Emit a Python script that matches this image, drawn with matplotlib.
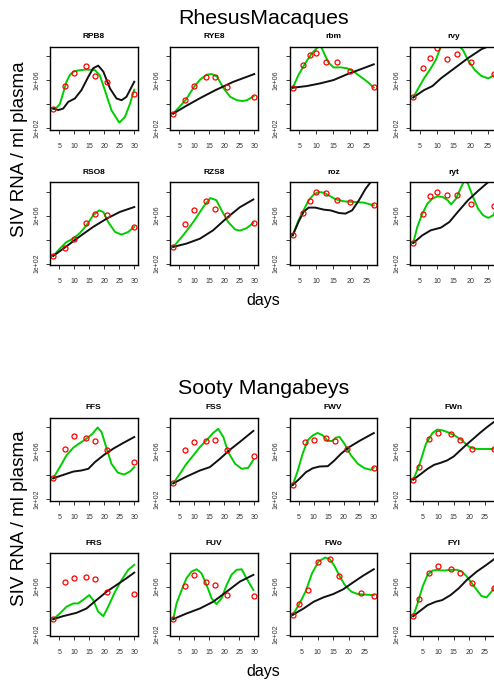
"""Viral load fits per animal: Rhesus macaques vs Sooty mangabeys."""

import matplotlib
matplotlib.use("Agg")
import matplotlib.pyplot as plt
import numpy as np
from matplotlib.ticker import MultipleLocator, FixedLocator, NullLocator

plt.rcParams["font.family"] = ["Liberation Sans", "DejaVu Sans"]

# --- data (viral loads as log10 copies / ml) ---------------------------------
rhesus_names = ["RPB8", "RYE8", "rbm", "rvy", "RSO8", "RZS8", "roz", "ryt"]
sooty_names = ["FFS", "FSS", "FWV", "FWn", "FRS", "FUV", "FWo", "FYI"]

days_a = [3, 7, 10, 14, 17, 21, 30]
days_b = [3, 6, 8, 10, 13, 16, 20, 27]
days_c = [2, 4, 7, 10, 14, 17, 21, 28]
days_d = [2, 4, 7, 10, 14, 17, 24, 28]

obs_days = {
    "RPB8": days_a, "RYE8": days_a, "rbm": days_b, "rvy": days_b,
    "RSO8": days_a, "RZS8": days_a, "roz": days_b, "ryt": days_b,
    "FFS": days_a, "FSS": days_a, "FWV": days_a, "FWn": days_c,
    "FRS": days_a, "FUV": days_a, "FWo": days_d, "FYI": days_c,
}

obs_log = {
    "RPB8": [3.62, 5.52, 6.56, 7.17, 6.34, 5.86, 4.83],
    "RYE8": [3.2, 4.32, 5.52, 6.28, 6.22, 5.44, 4.6],
    "rbm": [5.36, 7.29, 8.1, 8.29, 7.51, 7.51, 6.76, 5.38],
    "rvy": [4.55, 6.98, 7.87, 8.71, 7.79, 8.2, 7.51, 6.5],
    "RSO8": [2.64, 3.31, 4.08, 5.39, 6.11, 6.08, 5.08],
    "RZS8": [3.39, 5.28, 6.44, 7.22, 6.56, 6.08, 5.39],
    "roz": [4.36, 6.25, 7.22, 7.97, 7.89, 7.28, 7.11, 6.92],
    "ryt": [3.72, 6.11, 7.61, 8.0, 7.75, 7.75, 7.0, 6.78],
    "FFS": [3.73, 6.2, 7.26, 7.12, 6.87, 6.08, 5.08],
    "FSS": [3.31, 6.08, 6.73, 6.87, 6.9, 6.06, 5.58],
    "FWV": [3.17, 6.73, 6.95, 7.06, 6.84, 6.14, 4.6],
    "FWn": [3.62, 4.71, 7.03, 7.54, 7.4, 6.9, 6.17, 6.17],
    "FRS": [3.29, 6.36, 6.73, 6.78, 6.64, 5.55, 5.36],
    "FUV": [3.29, 6.08, 6.95, 6.36, 6.14, 5.3, 5.24],
    "FWo": [3.65, 4.52, 5.72, 8.04, 8.29, 6.9, 5.44, 5.19],
    "FYI": [3.54, 4.94, 7.12, 7.68, 7.51, 7.12, 6.28, 5.92],
}

# green fit: (day, log10 load)
green_fit = {
    "RPB8": [(3, 3.62), (4.2, 3.72), (5.2, 4.0), (6.3, 4.9), (7.4, 5.85), (8.6, 6.45),
             (9.9, 6.72), (11.3, 6.8), (14, 6.88), (16.9, 6.82), (18.5, 6.4), (20.2, 5.16),
             (22.4, 3.48), (25, 2.45), (26.9, 2.92), (28.6, 4.04), (30, 5.2)],
    "RYE8": [(3, 3.2), (7.1, 4.32), (9.8, 5.38), (12, 6.05), (14.2, 6.45), (15.9, 6.5),
             (17.6, 6.28), (19.8, 5.3), (22, 4.6), (24.2, 4.32), (26, 4.25), (27.6, 4.32),
             (29.8, 4.66)],
    "rbm": [(3, 5.36), (4.7, 6.42), (6.7, 7.4), (8.7, 8.24), (10.3, 8.7), (11, 8.95),
            (11.7, 8.6), (12.5, 8.1), (13.6, 7.45), (15.1, 7.05), (17.1, 7.06), (19.1, 6.98),
            (21.1, 6.7), (23.1, 6.28), (25.1, 5.86), (27, 5.38)],
    "rvy": [(3, 4.55), (4.2, 5.16), (6.2, 6.14), (8.2, 6.98), (9.7, 7.68), (11, 8.66),
            (12, 9.0), (13.5, 9.1), (15, 9.0), (16.5, 8.85), (17.7, 8.52), (19.2, 7.68),
            (21.2, 6.84), (23.2, 6.34), (25.2, 6.14), (26.7, 6.34), (27, 6.45)],
    "RSO8": [(3, 2.64), (5.2, 3.25), (7.4, 3.8), (9.7, 4.08), (11.9, 4.56), (14.1, 5.19),
             (16.3, 6.03), (18.3, 6.44), (19.7, 6.3), (21.3, 5.47), (23.6, 4.64), (25.8, 4.42),
             (28, 4.64), (30, 5.06)],
    "RZS8": [(3, 3.39), (6.3, 4.36), (9.7, 5.47), (13, 6.72), (15.4, 7.47), (17.4, 7.28),
             (19.1, 6.44), (21.3, 5.47), (23.6, 4.85), (25.2, 4.75), (27.4, 4.95), (29.7, 5.39)],
    "roz": [(3, 4.36), (4.7, 5.61), (6.2, 6.44), (7.7, 7.28), (9.2, 7.75), (10.7, 7.97),
            (12.2, 7.92), (13.7, 7.69), (15.7, 7.36), (18.2, 7.19), (21.2, 7.14), (24.1, 7.08),
            (27, 6.86)],
    "ryt": [(3, 3.72), (4.2, 5.06), (5.7, 6.17), (7.2, 7.0), (8.7, 7.42), (10.2, 7.61),
            (11.7, 7.56), (13.2, 7.28), (14.2, 6.94), (15.7, 7.42), (17.2, 8.39), (18.2, 8.95),
            (19.2, 8.67), (20.7, 7.56), (22.2, 6.58), (23.7, 6.03), (25.2, 5.81), (26.7, 6.03),
            (27, 6.22)],
    "FFS": [(3, 3.73), (5.2, 4.66), (7.4, 5.64), (9.7, 6.28), (11.9, 6.67), (14.1, 7.03),
            (16.1, 7.45), (17.8, 7.96), (19.1, 7.59), (20.8, 6.2), (22.4, 4.94), (24.5, 4.2),
            (26.6, 4.04), (28.6, 4.3), (30, 4.66)],
    "FSS": [(3, 3.31), (5.2, 4.1), (7.4, 4.94), (9.7, 5.64), (11.9, 6.34), (14.1, 6.9),
            (16.3, 7.51), (18, 7.85), (19.7, 7.17), (21.3, 5.92), (23.6, 4.94), (25.8, 4.52),
            (28, 4.6), (29.7, 5.27)],
    "FWV": [(3, 3.17), (4.7, 4.38), (6.3, 5.78), (8, 6.9), (9.7, 7.31), (11.3, 7.51),
            (13, 7.31), (14.7, 6.84), (16.1, 6.84), (17.4, 7.12), (18.6, 7.17), (20.2, 6.62),
            (22.4, 5.64), (24.7, 4.94), (26.9, 4.57), (29.1, 4.43), (30, 4.6)],
    "FWn": [(2, 3.62), (3.9, 4.8), (6.1, 6.62), (8.2, 7.51), (9.7, 7.79), (11.3, 7.73),
            (13.4, 7.54), (15.5, 7.26), (17.6, 6.9), (19.7, 6.4), (21.3, 6.2), (23.4, 6.17),
            (25.5, 6.17), (28, 6.17)],
    "FRS": [(3, 3.29), (5.2, 3.76), (7.4, 4.32), (9.7, 4.6), (11.3, 4.6), (13.6, 5.02),
            (15, 5.3), (16.3, 4.88), (18, 3.9), (19.7, 3.54), (21.3, 4.32), (23.6, 5.58),
            (25.8, 6.56), (28, 7.4), (30, 7.82)],
    "FUV": [(3, 3.29), (4.1, 4.6), (5.8, 5.72), (7.4, 6.7), (9.1, 7.26), (10.8, 7.45),
            (12.4, 7.12), (14.1, 6.14), (15.8, 5.02), (17.4, 4.55), (19.1, 5.02), (20.8, 6.14),
            (22.4, 6.98), (24.1, 7.4), (25.8, 7.45), (27.4, 6.7), (29.7, 5.72)],
    "FWo": [(2, 3.65), (3.9, 4.46), (6.1, 5.58), (8.2, 7.12), (10.3, 8.1), (12.4, 8.43),
            (13.9, 8.29), (15.5, 7.68), (17.1, 6.84), (18.7, 6.14), (20.8, 5.58), (22.9, 5.38),
            (25.5, 5.33), (28, 5.3)],
    "FYI": [(2, 3.54), (3.4, 4.6), (5, 6.0), (6.6, 6.98), (8.2, 7.34), (9.7, 7.4),
            (11.8, 7.34), (13.9, 7.4), (16.1, 7.4), (17.6, 7.26), (19.2, 6.84), (20.8, 6.28),
            (22.4, 5.72), (23.9, 5.22), (25.5, 5.1), (27.1, 5.58), (28, 5.9)],
}

# black fit
black_fit = {
    "RPB8": [(3, 3.62), (4.7, 3.5), (6.3, 3.62), (8, 4.18), (10.2, 4.46), (12.4, 5.16),
             (14.7, 6.28), (16.3, 6.98), (18, 7.2), (19.7, 6.7), (21.9, 5.3), (24.1, 4.46),
             (25.8, 4.32), (27.4, 4.6), (30, 5.86)],
    "RYE8": [(3, 3.2), (7, 3.8), (12, 4.5), (17, 5.15), (23, 5.85), (30, 6.5)],
    "rbm": [(3, 5.36), (7.2, 5.5), (11.1, 5.72), (15.1, 6.0), (19.1, 6.48), (23.1, 6.9),
            (27, 7.31)],
    "rvy": [(3, 4.55), (6.2, 5.16), (8.7, 5.5), (11.2, 6.14), (15.2, 6.98), (19.2, 7.82),
            (23.2, 8.57), (25.2, 8.8), (27, 9.2)],
    "RSO8": [(3, 2.64), (7.4, 3.44), (11.9, 4.28), (16.3, 5.06), (20.8, 5.75), (25.2, 6.31),
             (30, 6.72)],
    "RZS8": [(3, 3.39), (7.4, 3.67), (11.9, 4.08), (16.3, 4.78), (20.8, 5.8), (25.2, 6.7),
             (29.7, 7.35)],
    "roz": [(3, 4.36), (4.7, 5.47), (6.2, 6.31), (7.7, 6.67), (9.7, 6.67), (12.2, 6.5),
            (14.2, 6.44), (16.7, 6.22), (18.6, 6.17), (20.6, 6.44), (22.6, 7.28), (24.6, 8.25),
            (26.1, 8.8), (27, 9.2)],
    "ryt": [(3, 3.72), (5.7, 4.36), (8.2, 4.78), (11.2, 5.0), (13.7, 5.47), (16.2, 6.31),
            (19.2, 7.28), (22.2, 8.06), (24.7, 8.67), (27, 9.2)],
    "FFS": [(3, 3.73), (7.4, 4.1), (9.7, 4.29), (12.4, 4.38), (14.7, 4.52), (16.9, 5.08),
            (19.7, 5.64), (23, 6.2), (26.3, 6.67), (30, 7.17)],
    "FSS": [(3, 3.31), (7.4, 3.87), (11.9, 4.38), (15.2, 4.66), (18.6, 5.36), (21.9, 6.11),
            (25.2, 6.76), (29.7, 7.68)],
    "FWV": [(3, 3.17), (5.2, 3.68), (7.4, 4.24), (9.7, 4.57), (11.9, 4.71), (14.7, 4.74),
            (16.9, 5.22), (19.1, 5.78), (21.9, 6.34), (25.2, 6.84), (30, 7.5)],
    "FWn": [(2, 3.62), (4.5, 4.1), (6.6, 4.52), (8.7, 4.85), (10.8, 5.02), (12.9, 5.22),
            (15, 5.55), (17.1, 6.06), (19.2, 6.56), (21.3, 7.03), (23.4, 7.51), (25.5, 7.96),
            (28, 8.45)],
    "FRS": [(3, 3.29), (6.3, 3.54), (10.8, 3.82), (14.1, 4.18), (17.4, 4.88), (20.8, 5.58),
            (24.1, 6.14), (27.4, 6.7), (30, 7.17)],
    "FUV": [(3, 3.29), (7.4, 3.76), (11.9, 4.18), (16.3, 4.74), (20.8, 5.58), (25.2, 6.42),
            (29.7, 6.98)],
    "FWo": [(2, 3.65), (5.5, 4.18), (8.7, 4.74), (11.8, 5.1), (15, 5.38), (18.2, 5.78),
            (21.3, 6.34), (24.5, 6.9), (28, 7.45)],
    "FYI": [(2, 3.54), (4.5, 4.04), (6.6, 4.46), (9.2, 4.74), (11.3, 4.88), (14, 5.3),
            (16.6, 5.86), (19.2, 6.56), (22.4, 7.26), (25.5, 7.82), (28, 8.3)],
}

# --- layout (pixels, from the top-left corner) -------------------------------
W, H = 494, 680
COL_LEFT = [50, 170, 289.5, 410]
PANEL_W, PANEL_H = 87.5, 83
GROUPS = [
    ("RhesusMacaques", rhesus_names, [46.7, 182.3], 19, 149, 300),
    ("Sooty Mangabeys", sooty_names, [417.7, 553.3], 389, 518.5, 671.5),
]
GREEN = "#00CD00"

fig = plt.figure(figsize=(W / 100, H / 100), dpi=100)


def add_panel(left, top):
    return fig.add_axes([left / W, 1 - (top + PANEL_H) / H, PANEL_W / W, PANEL_H / H])


def draw_panel(ax, name):
    t = np.array(obs_days[name])
    pad = 0.04 * (t.max() - t.min())
    g = np.array(green_fit[name])
    b = np.array(black_fit[name])

    ax.plot(g[:, 0], 10 ** g[:, 1], color=GREEN, lw=1.4, solid_joinstyle="round")
    ax.plot(b[:, 0], 10 ** b[:, 1], color="#111111", lw=1.4, solid_joinstyle="round")
    ax.plot(t, 10 ** np.array(obs_log[name]), "o", mfc="none", mec="red",
            ms=3.6, mew=0.9)

    ax.set_xlim(t.min() - pad, t.max() + pad)
    ax.set_yscale("log")
    ax.set_ylim(10 ** 1.86, 10 ** 8.78)
    ax.xaxis.set_major_locator(MultipleLocator(5))
    ax.yaxis.set_major_locator(FixedLocator([1e2, 1e4, 1e6, 1e8]))
    ax.yaxis.set_minor_locator(NullLocator())
    ax.set_yticklabels(["1e+02", "", "1e+06", ""], rotation=90, va="center")
    ax.tick_params(axis="both", direction="out", length=3, width=0.7,
                   labelsize=5, colors="#333333")
    ax.tick_params(axis="x", pad=6.5)
    ax.tick_params(axis="y", pad=4)
    for sp in ax.spines.values():
        sp.set_linewidth(1.0)
    ax.text(0.5, 1 + 10 / PANEL_H, name, transform=ax.transAxes, ha="center",
            va="center", fontsize=6, fontweight="bold")


for title, names, tops, title_y, ylab_y, xlab_y in GROUPS:
    for k, name in enumerate(names):
        r, c = divmod(k, 4)
        ax = add_panel(COL_LEFT[c], tops[r])
        draw_panel(ax, name)
    fig.text(264 / W, 1 - title_y / H, title, ha="center", va="center", fontsize=15.4)
    fig.text(19 / W, 1 - ylab_y / H, "SIV RNA / ml plasma", ha="center", va="center",
             rotation=90, fontsize=13.6)
    fig.text(263 / W, 1 - xlab_y / H, "days", ha="center", va="center", fontsize=11.5)

fig.savefig("out.png", dpi=100)
